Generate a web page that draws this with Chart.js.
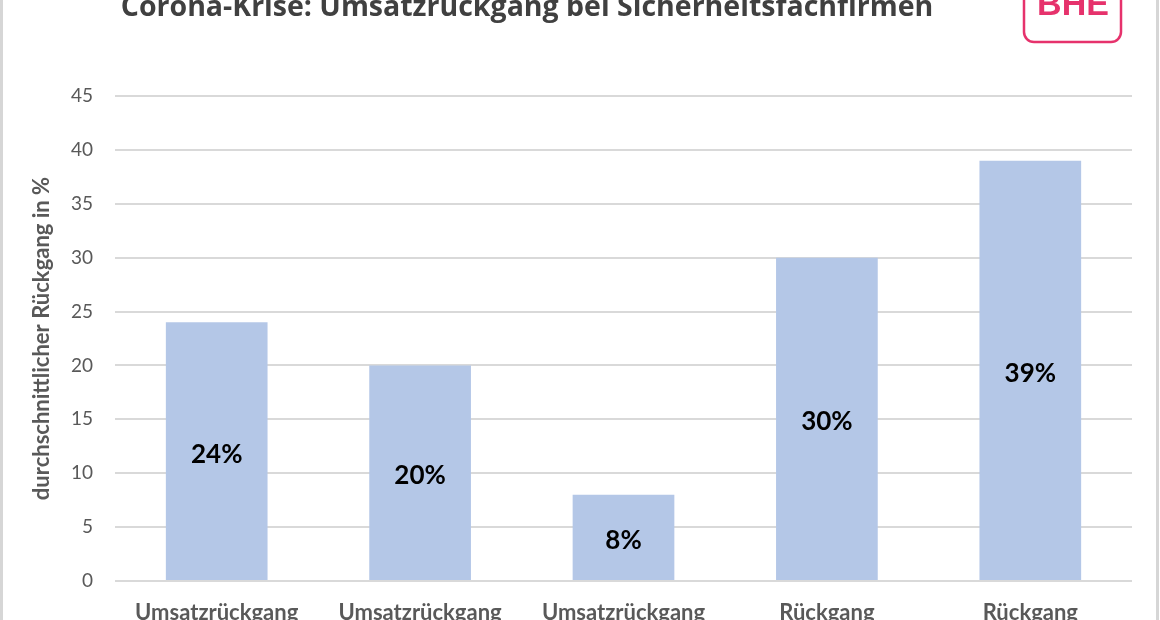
<!DOCTYPE html>
<html lang="de">
<head>
<meta charset="utf-8">
<title>Corona-Krise: Umsatzrückgang bei Sicherheitsfachfirmen</title>
<script src="https://cdn.jsdelivr.net/npm/chart.js@4"></script>
<style>
html, body { margin: 0; padding: 0; background: #fff; overflow: hidden; }
#wrap { width: 1160px; height: 620px; }
</style>
</head>
<body>
<div id="wrap"><canvas id="declineChart" width="1160" height="620"></canvas></div>
<script>
// data
const categories = ["Umsatzrückgang", "Umsatzrückgang", "Umsatzrückgang", "Rückgang", "Rückgang"];
const declines = [24, 20, 8, 30, 39];
const yMin = 0;
const yMax = 45;
const yStep = 5;

const chartTitle = "Corona-Krise: Umsatzrückgang bei Sicherheitsfachfirmen";
const yTitle = "durchschnittlicher Rückgang in %";
const logoText = "BHE";

const grey = "#595959";
const pink = "#e6326c";

// white background + thin grey frame on the sides
const framePlugin = {
  id: "frame",
  beforeDraw(chart) {
    const ctx = chart.ctx;
    ctx.save();
    ctx.fillStyle = "#fff";
    ctx.fillRect(0, 0, chart.width, chart.height);
    ctx.strokeStyle = "#d6d6d6";
    ctx.lineWidth = 3;
    ctx.beginPath();
    ctx.moveTo(1.5, 0); ctx.lineTo(1.5, chart.height);
    ctx.moveTo(chart.width - 2.5, 0); ctx.lineTo(chart.width - 2.5, chart.height);
    ctx.stroke();
    ctx.restore();
  }
};

// title (cut at the top edge) and the logo box
const headerPlugin = {
  id: "header",
  afterDraw(chart) {
    const ctx = chart.ctx;
    ctx.save();
    ctx.fillStyle = "#404040";
    ctx.font = "bold 28.5px 'Open Sans'";
    ctx.textAlign = "center";
    ctx.textBaseline = "alphabetic";
    ctx.fillText(chartTitle, 527, 16);

    ctx.beginPath();
    ctx.roundRect(1024, -30, 97, 72, 10);
    ctx.fillStyle = "#fff";
    ctx.fill();
    ctx.strokeStyle = pink;
    ctx.lineWidth = 2.5;
    ctx.stroke();
    ctx.fillStyle = pink;
    ctx.font = "bold 34px 'Liberation Sans'";
    ctx.fillText(logoText, 1073, 15);
    ctx.restore();
  }
};

// percentage labels in the middle of each bar
const barLabelPlugin = {
  id: "barLabels",
  afterDatasetsDraw(chart) {
    const ctx = chart.ctx;
    const meta = chart.getDatasetMeta(0);
    ctx.save();
    ctx.fillStyle = "#000";
    ctx.font = "bold 26px Lato";
    ctx.textAlign = "center";
    ctx.textBaseline = "middle";
    meta.data.forEach((bar, i) => {
      ctx.fillText(declines[i] + "%", bar.x, (bar.y + bar.base) / 2 + 3);
    });
    ctx.restore();
  }
};

new Chart(document.getElementById("declineChart"), {
  type: "bar",
  data: {
    labels: categories,
    datasets: [{
      data: declines,
      backgroundColor: "#b4c7e7",
      barPercentage: 0.5,
      categoryPercentage: 1
    }]
  },
  options: {
    responsive: false,
    animation: false,
    layout: { padding: { top: 96, right: 28, left: 20, bottom: 0 } },
    plugins: {
      legend: { display: false },
      tooltip: { enabled: false }
    },
    scales: {
      x: {
        grid: { display: false, drawTicks: false },
        border: { display: false },
        ticks: {
          color: grey,
          font: { family: "Lato", size: 22, weight: "bold" },
          padding: 19,
          maxRotation: 0,
          autoSkip: false
        },
        afterFit(scale) { scale.height = 39; }
      },
      y: {
        min: yMin,
        max: yMax,
        ticks: {
          stepSize: yStep,
          color: grey,
          font: { family: "Lato", size: 19 },
          padding: 22
        },
        grid: { color: "#d9d9d9", lineWidth: 2, drawTicks: false },
        border: { display: false },
        title: {
          display: true,
          text: yTitle,
          color: grey,
          font: { family: "Lato", size: 22, weight: "bold" },
          padding: { top: 9, bottom: 0 }
        },
        afterFit(scale) { scale.width = 95; }
      }
    }
  },
  plugins: [framePlugin, barLabelPlugin, headerPlugin]
});
</script>
</body>
</html>
